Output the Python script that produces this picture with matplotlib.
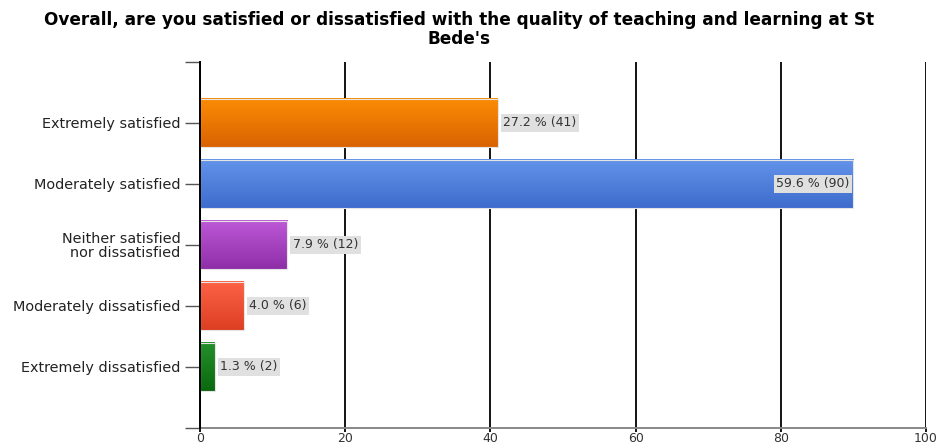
#!/usr/bin/env python3
"""Satisfaction with teaching and learning at St Bede's - horizontal bar chart."""
import numpy as np
import matplotlib
matplotlib.use("Agg")
import matplotlib.pyplot as plt
from matplotlib.colors import LinearSegmentedColormap

categories = ["Extremely satisfied", "Moderately satisfied",
              "Neither satisfied\nnor dissatisfied", "Moderately dissatisfied",
              "Extremely dissatisfied"]
counts = [41, 90, 12, 6, 2]
percents = [27.2, 59.6, 7.9, 4.0, 1.3]
# (top colour, bottom colour) of each bar's gradient
bar_colors = [("#fb8c04", "#d96302"), ("#6393ea", "#3d6ccc"),
              ("#bd58d6", "#8f2fa8"), ("#fe6246", "#dc3f22"),
              ("#24902a", "#0b680f")]
xticks = [0, 20, 40, 60, 80, 100]

plt.rcParams['font.family'] = ['DejaVu Sans']

fig = plt.figure(figsize=(9.43, 4.46), dpi=100)
ax = fig.add_axes([0.2121, 0.0404, 0.982 - 0.2121, 0.861 - 0.0404])

ypos = np.arange(len(categories))
bars = ax.barh(ypos, counts, height=0.79, color="none", edgecolor="#e4e4e4",
               linewidth=0.8, zorder=3)

# gradient fill for each bar
for b, (c_top, c_bot) in zip(bars, bar_colors):
    x0, y0 = b.get_x(), b.get_y()
    w, h = b.get_width(), b.get_height()
    cmap = LinearSegmentedColormap.from_list("g", [c_top, c_bot])
    grad = np.linspace(0, 1, 64).reshape(-1, 1)
    ax.imshow(grad, cmap=cmap, aspect="auto", extent=(x0, x0 + w, y0 + h, y0),
              origin="upper", zorder=2)

ax.set_xlim(0, 100)
ax.set_ylim(len(categories), -1)

# value labels
for i, (c, p) in enumerate(zip(counts, percents)):
    txt = f"{p:.1f} % ({c})"
    box = dict(boxstyle="square,pad=0.2", fc="#e0e0e0", ec="none")
    if c > 80:
        ax.text(c - 0.5, i, txt, ha="right", va="center", fontsize=9,
                color="#333333", bbox=box, zorder=5)
    else:
        ax.text(c + 0.8, i, txt, ha="left", va="center", fontsize=9,
                color="#333333", bbox=box, zorder=5)

# vertical grid lines
ax.set_xticks(xticks)
ax.grid(axis="x", color="black", linewidth=1.3, zorder=1)
ax.tick_params(axis="x", length=3, width=1.3, color="black", labelsize=9,
               labelcolor="#333333", pad=0)

# y ticks at categories plus the top/bottom edges
ax.set_yticks(list(range(-1, len(categories) + 1)))
ax.set_yticklabels([""] + categories + [""], fontsize=10.4, color="#222222",
                   linespacing=1.0)
ax.tick_params(axis="y", length=11, width=1.0, color="#555555", pad=3)

for s in ["top", "right"]:
    ax.spines[s].set_visible(False)
ax.spines["left"].set_color("black")
ax.spines["left"].set_linewidth(1.4)
ax.spines["left"].set_zorder(4)
ax.spines["bottom"].set_color("#888888")
ax.spines["bottom"].set_linewidth(1.4)

fig.text(0.487, 0.975, "Overall, are you satisfied or dissatisfied with the quality of teaching and learning at St\nBede's",
         ha="center", va="top", fontsize=12.2, fontweight="bold", linespacing=1.05)

fig.savefig("out.png", dpi=100)
